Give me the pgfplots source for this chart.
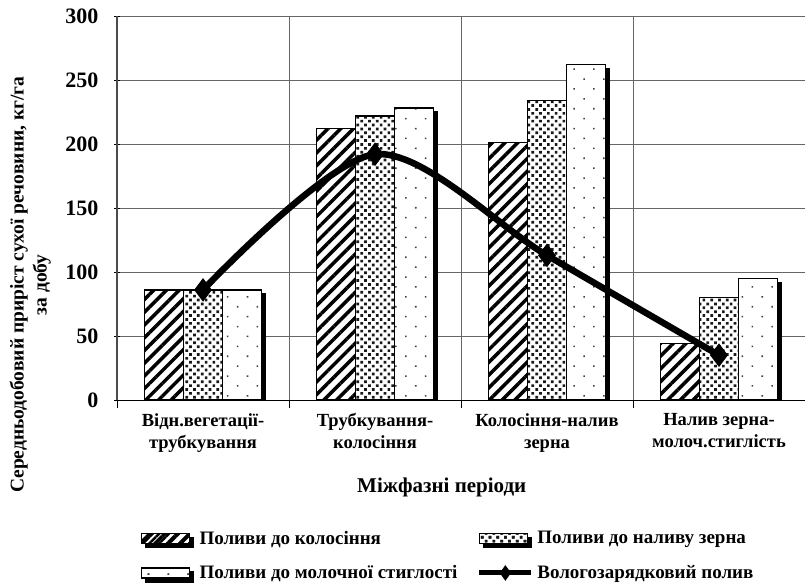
\documentclass[border=0pt]{standalone}
\usepackage{fontspec}
\setmainfont{Liberation Serif}
\usepackage{pgfplots}
\usepackage{pgfplotstable}
\pgfplotsset{compat=1.18}
\usetikzlibrary{patterns.meta}

\pgfplotstableread{
x a b c w
0 86 86 86 86
1 212 222 228 192
2 201 234 262 113
3 44 80 95 35
}\datatable

\tikzset{barshadow/.style={preaction={fill=black, draw=black, transform canvas={shift={(4pt,-4pt)}}}}}
\tikzset{legshadow/.style={preaction={fill=black, draw=black, transform canvas={shift={(2pt,-2pt)}}}}}
\newcommand{\legbox}{\pgfpathrectangle{\pgfpoint{0pt}{-7pt}}{\pgfpoint{56pt}{14pt}}\pgfusepath{use as bounding box}}

\begin{document}
\begin{tikzpicture}
\begin{axis}[
  scale only axis,
  width=688pt, height=384pt,
  xmin=-0.5, xmax=3.5,
  ymin=0, ymax=300,
  ytick={0,50,...,300},
  xtick={0,1,2,3},
  xticklabels={{Відн.вегетації-\\трубкування},{Трубкування-\\колосіння},{Колосіння-налив\\зерна},{Налив зерна-\\молоч.стиглість}},
  minor xtick={-0.5,0.5,1.5,2.5,3.5},
  major x tick style={draw=none},
  minor tick length=8pt,
  major tick length=6pt,
  tick align=center,
  xtick pos=bottom, ytick pos=left,
  axis lines=left,
  axis line style={-},
  x axis line style={black, line width=1pt},
  y axis line style={black!70, line width=2pt},
  ymajorgrids, xminorgrids,
  major grid style={black!60, line width=0.8pt},
  minor grid style={black!60, line width=0.8pt},
  tick style={black, line width=0.8pt},
  /pgf/number format/assume math mode=true,
  yticklabel style={font=\fontsize{22}{24}\selectfont\bfseries, xshift=-12pt},
  xticklabel style={font=\fontsize{18.5}{22}\selectfont\bfseries, align=center, yshift=-4pt},
  xlabel={Міжфазні періоди},
  xlabel style={at={(axis description cs:0.472,-0.2266)}, anchor=center, font=\fontsize{21}{24}\selectfont\bfseries},
  ylabel={Середньодобовий приріст сухої речовини, кг/га\\за добу},
  ylabel style={at={(axis description cs:-0.126,0.30)}, anchor=center, align=center, font=\fontsize{19.5}{23}\selectfont\bfseries},
  ybar=0pt, bar width=39pt,
  legend columns=2,
  legend cell align=left,
  legend style={at={(axis description cs:0.031,-0.33)}, anchor=north west, draw=none, fill=none,
    font=\fontsize{19}{22}\selectfont\bfseries,
    /tikz/every even column/.append style={column sep=20pt},
    /tikz/row sep=16pt},
]
\addplot[draw=black, line width=1.5pt, barshadow, fill=white,
  postaction={draw=black, line width=1.5pt, pattern={Lines[angle=45,distance=9pt,line width=3.5pt]}, pattern color=black},
  legend image code/.code={\legbox \pgfsetlinewidth{0pt}\draw[black, line width=1.5pt, fill=white, postaction={draw=black, pattern={Lines[angle=45,distance=7pt,line width=2.5pt]}, pattern color=black}] (0pt,-5pt) rectangle (48pt,5pt);}]
  table[x=x,y=a]{\datatable};
\addlegendentry{Поливи до колосіння}
\addplot[draw=black, line width=1.5pt, barshadow, fill=white,
  postaction={draw=black, line width=1.5pt, pattern={Dots[angle=45,distance=5.5pt,radius=1.9pt]}, pattern color=black!90},
  legend image code/.code={\legbox \draw[black, line width=1.5pt, fill=white, postaction={draw=black, pattern={Dots[angle=45,distance=5.5pt,radius=1.9pt]}, pattern color=black!90}] (0pt,-5pt) rectangle (48pt,5pt);}]
  table[x=x,y=b]{\datatable};
\addlegendentry{Поливи до наливу зерна}
\addplot[draw=black, line width=1.5pt, barshadow, fill=white,
  postaction={draw=black, line width=1.5pt, pattern={Dots[angle=45,distance=14pt,radius=1.1pt]}, pattern color=black!75},
  legend image code/.code={\legbox \draw[black, line width=1.5pt, fill=white, postaction={draw=black, pattern={Dots[angle=45,distance=14pt,radius=1.1pt]}, pattern color=black!75}] (0pt,-5pt) rectangle (48pt,5pt);}]
  table[x=x,y=c]{\datatable};
\addlegendentry{Поливи до молочної стиглості}
\addplot[sharp plot, smooth, black, line width=6.5pt, mark=diamond*, mark size=11pt, mark options={solid, line width=1pt},
  legend image code/.code={\legbox \draw[black, line width=5pt] (0pt,0pt) -- (52pt,0pt); \draw[black, fill=black, line width=1pt] (26pt,-7pt) -- (31pt,0pt) -- (26pt,7pt) -- (21pt,0pt) -- cycle;}]
  table[x=x,y=w]{\datatable};
\addlegendentry{Вологозарядковий полив}
\coordinate (bl) at (axis description cs:-0.1701,-0.479);
\coordinate (tr) at (axis description cs:1.0,1.0417);
\end{axis}
\pgfresetboundingbox
\path[use as bounding box] (bl) rectangle (tr);
\end{tikzpicture}
\end{document}
